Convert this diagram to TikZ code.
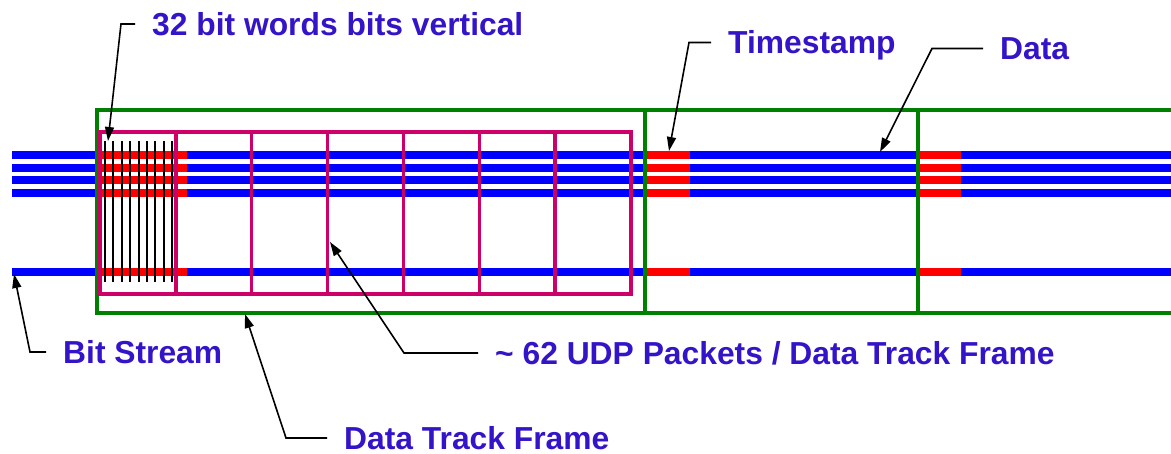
\documentclass[tikz,border=0pt]{standalone}
\usepackage{fontspec}
\setmainfont{Liberation Sans}
\usetikzlibrary{arrows.meta,positioning}
\definecolor{lblcol}{RGB}{52,20,200}
\definecolor{pktcol}{RGB}{204,0,102}
\definecolor{frmcol}{RGB}{0,128,0}

\begin{document}
\begin{tikzpicture}[x=1pt, y=-1pt, sharp corners,
     font=\fontsize{31.8}{36}\selectfont\bfseries,
     bus/.style={draw=blue, line width=8pt},
     ts/.style={draw=red, line width=8pt},
     frm/.style={draw=frmcol, line width=3.6pt},
     pkt/.style={draw=pktcol, line width=3.4pt},
     bitln/.style={draw=black, line width=2pt},
     ptr/.style={draw=black, line width=1.6pt, -{Triangle[length=14pt,width=9pt]}},
     lbl/.style={text=lblcol, anchor=west, inner ysep=0pt, inner xsep=17pt,
                 text height=22.7pt, text depth=0pt}]
   \useasboundingbox (0,0) rectangle (1171,454);
   % bit stream lines
   \foreach \y in {155.5,168,180.5,193,272}
     \draw[bus] (12,\y) -- (1175,\y);
   % timestamps
   \foreach \y in {155.5,168,180.5,193,272} {
     \draw[ts] (100,\y) -- (187,\y);
     \draw[ts] (645,\y) -- (690,\y);
     \draw[ts] (916,\y) -- (961,\y);
   }
   % data track frames
   \draw[frm] (97,110) rectangle (645,313);
   \draw[frm] (645,110) rectangle (918,313);
   \draw[frm] (918,110) rectangle (1180,313);
   % UDP packets
   \foreach \i in {0,...,6}
     \draw[pkt] (100+75.85*\i,132) rectangle (100+75.85*\i+75.85,294);
   % 32 bit words
   \foreach \i in {0,...,8}
     \draw[bitln] (105+8.4*\i,141) -- (105+8.4*\i,282);

   \node[lbl] (bits)   at (135,24)    {32 bit words bits vertical};
   \node[lbl] (stamp)  at (711,42.5)  {Timestamp};
   \node[lbl] (data)   at (983,48.5)  {Data};
   \node[lbl] (stream) at (46,352)    {Bit Stream};
   \node[lbl] (udp)    at (478,353)   {\textasciitilde{} 62 UDP Packets / Data Track Frame};
   \node[lbl] (dtf)    at (327,438)   {Data Track Frame};

   \coordinate (bitstip)   at (108,141);
   \coordinate (stamptip)  at (669,151);
   \coordinate (datatip)   at (880,152);
   \coordinate (streamtip) at (14,274);
   \coordinate (udptip)    at (330,242);
   \coordinate (dtftip)    at (245,314);

   \draw[ptr] (bits.west) -- ++(-14,0) -- (bitstip);
   \draw[ptr] (stamp.west) -- ++(-22,0) -- (stamptip);
   \draw[ptr] (data.west) -- ++(-51,0) -- (datatip);
   \draw[ptr] (stream.west) -- ++(-16,0) -- (streamtip);
   \draw[ptr] (udp.west) -- ++(-74,0) -- (udptip);
   \draw[ptr] (dtf.west) -- ++(-41,0) -- (dtftip);
  \end{tikzpicture}
\end{document}
